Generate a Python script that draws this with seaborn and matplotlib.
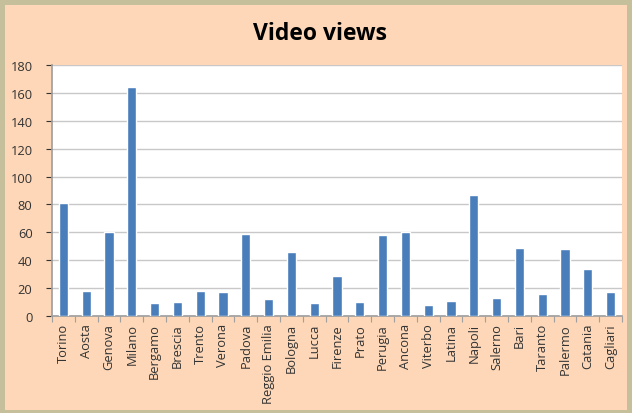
import matplotlib
matplotlib.use("Agg")
import matplotlib.pyplot as plt
import matplotlib.patches as mpatches
import numpy as np
import pandas as pd
import seaborn as sns

# ===================== DATI =====================
citta = ["Torino", "Aosta", "Genova", "Milano", "Bergamo", "Brescia", "Trento",
         "Verona", "Padova", "Reggio Emilia", "Bologna", "Lucca", "Firenze",
         "Prato", "Perugia", "Ancona", "Viterbo", "Latina", "Napoli", "Salerno",
         "Bari", "Taranto", "Palermo", "Catania", "Cagliari"]
views = [81, 18, 60, 164, 9, 10, 18, 17, 59, 12, 46, 9, 29,
         10, 58, 60, 8, 11, 87, 13, 49, 16, 48, 34, 17]
y_ticks = list(range(0, 181, 20))

df = pd.DataFrame({"Citta": citta, "Views": views})

sns.set_theme(style="white")
plt.rcParams["font.family"] = ["Open Sans", "DejaVu Sans"]

fig = plt.figure(figsize=(6.32, 4.14), dpi=100)
fig.patch.set_facecolor("#c6bf9c")
# pannello color pesca (sotto gli assi)
fig.patches.append(mpatches.Rectangle((5 / 632, 3 / 414), 622 / 632, 405 / 414,
                                      transform=fig.transFigure, facecolor="#fdd7b7",
                                      edgecolor="none", zorder=-10))

ax = fig.add_axes([52 / 632, 1 - 317 / 414, 570 / 632, 251 / 414])
ax.set_facecolor("white")
sns.barplot(data=df, x="Citta", y="Views", color="#4a7ebb", width=0.4,
            saturation=1, ax=ax, zorder=3)

ax.set_ylim(0, 180)
ax.set_yticks(y_ticks)
ax.set_xlim(-0.5, len(citta) - 0.5)
# tacche tra le categorie, stile Excel
ax.set_xticks(np.arange(len(citta) + 1) - 0.5, minor=True)
ax.yaxis.grid(True, color="#c8c8c8", linewidth=1, zorder=0)
ax.set_axisbelow(True)
ax.set_xlabel("")
ax.set_ylabel("")
ax.tick_params(axis="x", which="major", rotation=90, labelsize=9.3, colors="#333333",
               length=0, pad=5)
ax.tick_params(axis="x", which="minor", bottom=True, length=4, width=0.8,
               color="#a0a0a0", direction="out")
ax.tick_params(axis="y", left=True, labelsize=9.3, colors="#333333", length=4,
               width=0.8, direction="out", pad=10)
for t in ax.get_yticklines():
    t.set_color("#a0a0a0")
for s in ["top", "right"]:
    ax.spines[s].set_visible(False)
ax.spines["left"].set_color("#a0a0a0")
ax.spines["bottom"].set_color("#a0a0a0")

fig.text(320 / 632, 1 - 34 / 414, "Video views", ha="center", va="center",
         fontsize=16.5, fontweight="bold", color="black")

fig.savefig("out.png", dpi=100, facecolor=fig.get_facecolor())
